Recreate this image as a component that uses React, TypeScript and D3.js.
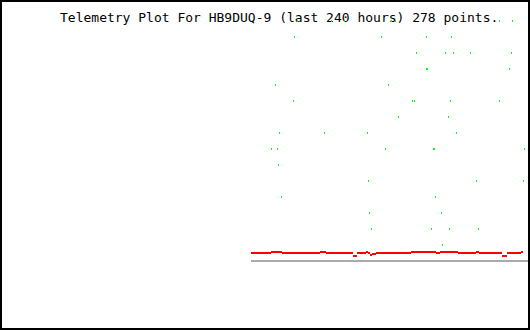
import React, { useEffect, useRef } from 'react';
import * as d3 from 'd3';

// telemetry samples, x in hours of the 240h window, y in raw units
const greenHours = [
  134.5, 150, 155.9, 177.3, 179.1, 226.4, 232.3,
  133.2, 172.7, 193.2, 204.5,
  188.6, 201.8, 205.5, 213.2, 231.8,
  193.2, 193.6, 230.9,
  124.5, 175.9,
  132.7, 186.8, 187.7, 204.1, 226.4,
  180.5, 203.2,
  126.4, 146.8, 166.4, 206.8,
  122.7, 125.5, 174.5, 196.4, 237.7,
  125.9,
  166.8, 215.9, 237.3,
  127.3, 197.3,
  167.3, 200,
  168.2, 195.5, 203.6, 216.8,
  200.5,
];
const greenValues = [
  240, 240, 240, 240, 240, 240, 240,
  224, 224, 224, 224,
  208, 208, 208, 208, 208,
  192, 192, 192,
  176, 176,
  160, 160, 160, 160, 160,
  144, 144,
  128, 128, 128, 128,
  112, 112, 112, 112, 112,
  96,
  80, 80, 80,
  64, 64,
  48, 48,
  32, 32, 32, 32,
  16,
];
const bigDotHours = [196.4];

const redHours = [
  113.6, 122.7, 127.7, 145, 147.7, 160, 161.8, 165.9, 166.8, 167.7, 168.6,
  170.5, 186.4, 197.7, 199.5, 207.7, 215.9, 217.3, 227.7, 230, 236.4, 237.3,
];
const redValues = [
  8, 9, 8, 9, 8, 5, 8, 9, 8, 6, 7,
  8, 9, 8, 9, 8, 9, 8, 5, 8, 9, 9,
];

const title = 'Telemetry Plot For HB9DUQ-9 (last 240 hours) 278 points.';

const width = 530;
const height = 330;

const TelemetryPlot = () => {
  const ref = useRef<SVGSVGElement | null>(null);

  useEffect(() => {
    document.body.style.margin = '0';
    const svg = d3.select(ref.current);
    svg.selectAll('*').remove();

    const x = d3.scaleLinear().domain([0, 240]).range([1, 529]);
    const y = d3.scaleLinear().domain([0, 261]).range([261, 0]);

    svg.append('rect')
      .attr('width', width)
      .attr('height', height)
      .attr('fill', 'white');

    // title goes under the points, dots show through the letters
    svg.append('text')
      .attr('x', 60)
      .attr('y', 22)
      .attr('font-family', '"DejaVu Sans Mono", monospace')
      .attr('font-size', 13)
      .attr('fill', 'black')
      .text(title);

    // gray baseline under the red trace
    svg.append('line')
      .attr('x1', Math.round(x(redHours[0])))
      .attr('x2', x(240) - 1)
      .attr('y1', y(0))
      .attr('y2', y(0))
      .attr('stroke', '#aaaaaa')
      .attr('stroke-width', 2)
      .attr('shape-rendering', 'crispEdges');

    // red trace drawn as step segments
    const steps = redHours.slice(0, -1).map((h, i) => ({
      x0: Math.round(x(h)),
      x1: Math.round(x(redHours[i + 1])),
      v: redValues[i],
    }));
    svg.append('g')
      .attr('fill', '#ff0000')
      .selectAll('rect')
      .data(steps)
      .join('rect')
      .attr('x', d => d.x0)
      .attr('width', d => Math.max(1, d.x1 - d.x0))
      .attr('y', d => y(d.v) - 1)
      .attr('height', 2)
      .attr('shape-rendering', 'crispEdges');

    const dots = greenHours.map((h, i) => ({ h, v: greenValues[i] }));
    svg.append('g')
      .attr('fill', '#00ff00')
      .selectAll('rect')
      .data(dots)
      .join('rect')
      .attr('x', d => Math.round(x(d.h)))
      .attr('y', d => y(d.v) - 1)
      .attr('width', d => (bigDotHours.includes(d.h) ? 2 : 1))
      .attr('height', 2)
      .attr('shape-rendering', 'crispEdges');

    // frame
    svg.append('rect')
      .attr('x', 1)
      .attr('y', 0.5)
      .attr('width', width - 2)
      .attr('height', height - 1.5)
      .attr('fill', 'none')
      .attr('stroke', 'black')
      .attr('stroke-width', 2)
      .attr('shape-rendering', 'crispEdges');
  }, []);

  return <svg ref={ref} width={width} height={height} style={{ display: 'block' }} />;
};

export default function App() {
  return <TelemetryPlot />;
}
